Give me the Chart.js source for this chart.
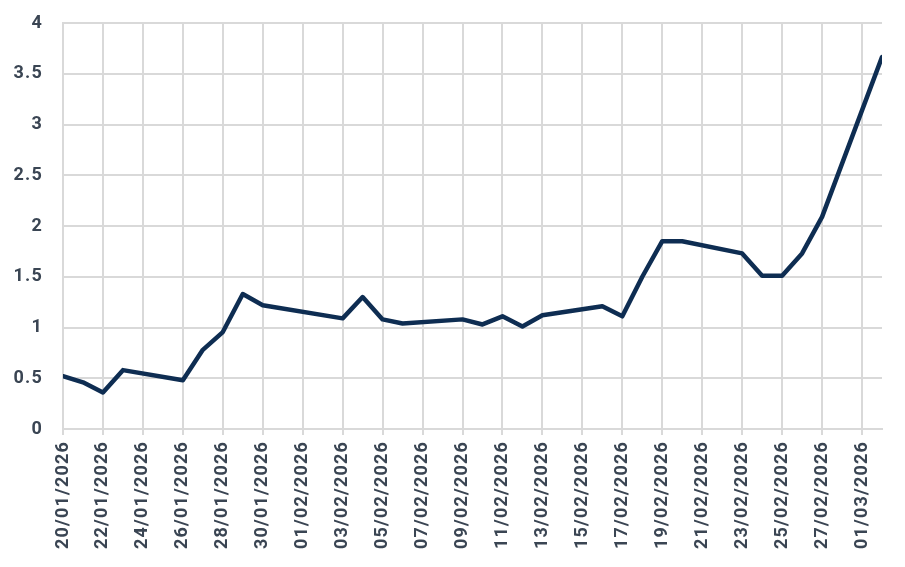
<!DOCTYPE html>
<html>
<head>
<meta charset="utf-8">
<script src="https://cdn.jsdelivr.net/npm/chart.js@4/dist/chart.umd.min.js"></script>
<style>
  html, body { margin: 0; padding: 0; background: #ffffff; }
  #wrap { width: 905px; height: 567px; position: relative; }
</style>
</head>
<body>
<div id="wrap"><canvas id="c" width="905" height="567"></canvas></div>
<script>
const dates = [
  '20/01/2026','21/01/2026','22/01/2026','23/01/2026','26/01/2026','27/01/2026','28/01/2026',
  '29/01/2026','30/01/2026','03/02/2026','04/02/2026','05/02/2026','06/02/2026','09/02/2026',
  '10/02/2026','11/02/2026','12/02/2026','13/02/2026','16/02/2026','17/02/2026','18/02/2026',
  '19/02/2026','20/02/2026','23/02/2026','24/02/2026','25/02/2026','26/02/2026','27/02/2026',
  '02/03/2026'
];
const values = [
  0.52, 0.46, 0.36, 0.58, 0.48, 0.78, 0.955,
  1.33, 1.22, 1.09, 1.30, 1.08, 1.04, 1.08,
  1.03, 1.11, 1.01, 1.12, 1.21, 1.11, 1.50,
  1.85, 1.85, 1.73, 1.51, 1.51, 1.73, 2.09,
  3.665
];
const axisStart = '20/01/2026';
const axisEnd = '02/03/2026';
const yTickValues = [0, 0.5, 1, 1.5, 2, 2.5, 3, 3.5, 4];

const DAY = 86400000;
function parseDate(s) {
  const [d, m, y] = s.split('/').map(Number);
  return Date.UTC(y, m - 1, d);
}
function fmt(ms) {
  const dt = new Date(ms);
  const dd = String(dt.getUTCDate()).padStart(2, '0');
  const mm = String(dt.getUTCMonth() + 1).padStart(2, '0');
  return dd + '/' + mm + '/' + dt.getUTCFullYear();
}
const t0 = parseDate(axisStart);
const points = dates.map((d, i) => ({ x: (parseDate(d) - t0) / DAY, y: values[i] }));
const xMax = (parseDate(axisEnd) - t0) / DAY;

const textColor = '#3a4553';
const gridColor = '#d9d9d9';
const spacingPlugin = {
  id: 'spacing',
  beforeLayout(chart) { chart.ctx.letterSpacing = '1.2px'; },
  beforeDraw(chart) { chart.ctx.letterSpacing = '1.2px'; }
};

new Chart(document.getElementById('c'), {
  type: 'line',
  data: {
    datasets: [{
      data: points,
      borderColor: '#0e2d52',
      borderWidth: 4.5,
      pointRadius: 0,
      tension: 0,
      borderJoinStyle: 'round',
      borderCapStyle: 'round'
    }]
  },
  options: {
    responsive: false,
    animation: false,
    layout: { padding: { top: 23, right: 23, left: 0, bottom: 0 } },
    plugins: { legend: { display: false }, tooltip: { enabled: false } },
    scales: {
      x: {
        type: 'linear',
        min: 0,
        max: xMax,
        afterFit(scale) { scale.height = 138; },
        grid: { color: gridColor, lineWidth: 2, tickLength: 6, drawTicks: true },
        border: { color: gridColor, width: 2 },
        ticks: {
          stepSize: 2,
          includeBounds: false,
          autoSkip: false,
          minRotation: 90,
          maxRotation: 90,
          padding: 6,
          color: textColor,
          font: { family: 'Roboto', size: 18, weight: 'bold' },
          callback: (v) => fmt(t0 + v * DAY)
        }
      },
      y: {
        min: 0,
        max: 4,
        afterFit(scale) { scale.width = 63; scale.paddingTop = 0; scale.paddingBottom = 0; },
        afterBuildTicks(scale) { scale.ticks = yTickValues.map(v => ({ value: v })); },
        grid: { color: gridColor, lineWidth: 2, drawTicks: false },
        border: { color: gridColor, width: 2 },
        ticks: {
          padding: 20,
          color: textColor,
          font: { family: 'Roboto', size: 18, weight: 'bold' },
          callback: (v) => String(v)
        }
      }
    }
  },
  plugins: [spacingPlugin]
});
</script>
</body>
</html>
